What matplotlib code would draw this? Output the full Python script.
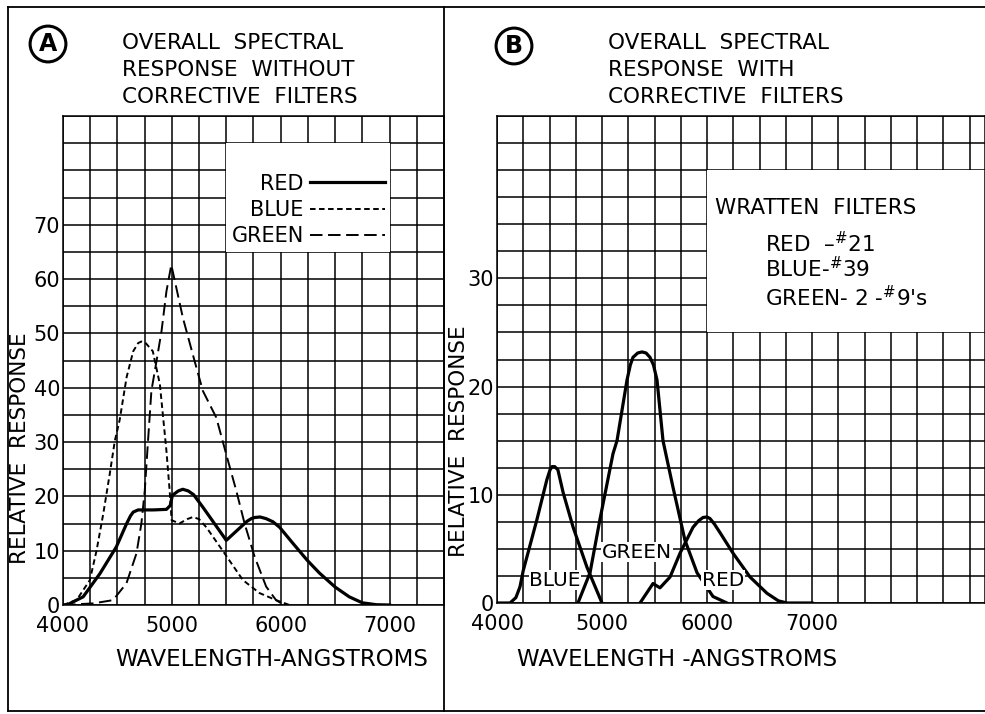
import matplotlib
matplotlib.use("Agg")
import matplotlib.pyplot as plt
from matplotlib.lines import Line2D
from matplotlib.patches import Rectangle
from matplotlib.ticker import MultipleLocator

plt.rcParams["font.family"] = ["DejaVu Sans"]
plt.rcParams["mathtext.fontset"] = "dejavusans"
plt.rcParams["lines.scale_dashes"] = False

# ---- panel A: overall response without corrective filters ----
red_a_x = [4000, 4035, 4185, 4340, 4490, 4585, 4620, 4645, 4690, 4735, 4830, 4950, 4985,
           5005, 5060, 5100, 5150, 5200, 5285, 5500, 5690, 5730, 5760, 5810, 5865, 5930,
           5990, 6110, 6245, 6355, 6500, 6630, 6750, 6880, 7000]
red_a_y = [0, 0, 1.5, 5.8, 10.7, 15.0, 16.4, 17.1, 17.5, 17.5, 17.5, 17.6, 18.3,
           20.2, 21.0, 21.3, 21.0, 20.3, 18.0, 11.9, 15.4, 15.9, 16.1, 16.2, 15.9, 15.3,
           14.3, 11.4, 8.2, 5.9, 3.3, 1.5, 0.4, 0.05, 0]

blue_a_x = [4000, 4125, 4247, 4308, 4370, 4430, 4476, 4520, 4585, 4645, 4690, 4720, 4760,
            4825, 4890, 4950, 4980, 4998, 5070, 5140, 5195, 5250, 5317, 5484, 5652, 5805,
            5957, 6080]
blue_a_y = [0, 0.9, 4.6, 10.0, 16.8, 24.2, 30.2, 34.0, 42.0, 46.7, 48.2, 48.5, 48.2,
            46.7, 40.6, 28.4, 21.0, 15.6, 15.0, 15.8, 16.2, 15.8, 14.3, 9.5, 4.6, 2.2,
            0.9, 0]

green_a_x = [4000, 4280, 4460, 4583, 4675, 4720, 4751, 4781, 4812, 4860, 4905, 4950, 4995,
             5102, 5209, 5285, 5408, 5515, 5591, 5668, 5760, 5866, 5957, 6030]
green_a_y = [0, 0.3, 0.9, 4.0, 9.5, 15.0, 21.0, 30.2, 39.4, 45.0, 50.4, 57.7, 62.6,
             52.8, 44.9, 39.4, 34.5, 26.6, 21.1, 15.0, 8.9, 3.4, 0.9, 0]

# ---- panel B: overall response with corrective filters ----
blue_b_x = [4000, 4124, 4180, 4219, 4250, 4380, 4475, 4505, 4524, 4550, 4580, 4630, 4725,
            4857, 5000]
blue_b_y = [0, 0, 0.5, 1.5, 3.0, 7.7, 11.4, 12.3, 12.6, 12.6, 12.3, 10.2, 7.0, 3.3, 0]

green_b_x = [4771, 4886, 4980, 5105, 5143, 5238, 5270, 5295, 5340, 5381, 5420, 5457,
             5490, 5524, 5581, 5676, 5790, 5905, 6057, 6190]
green_b_y = [0, 2.8, 7.7, 13.8, 15.0, 20.6, 22.0, 22.7, 23.1, 23.2, 23.1, 22.7,
             22.0, 20.6, 15.0, 10.7, 5.8, 2.8, 0.6, 0]

red_b_x = [5362, 5486, 5552, 5648, 5743, 5867, 5920, 5962, 6000, 6029, 6070, 6124,
           6248, 6410, 6571, 6680, 6762, 7000]
red_b_y = [0, 1.8, 1.4, 2.4, 4.6, 7.0, 7.6, 7.9, 7.95, 7.8, 7.3, 6.5,
           4.6, 2.4, 0.9, 0.2, 0, 0]

xticks = [4000, 5000, 6000, 7000]
yticks_a = [0, 10, 20, 30, 40, 50, 60, 70]
yticks_b = [0, 10, 20, 30]

W, H = 985, 714


def fx(px):
    return px / W


def fy(py):
    return 1 - py / H


fig = plt.figure(figsize=(9.85, 7.14), dpi=100, facecolor="white")

# outer frame of the plate
for xs, ys in [([8, 985], [7, 7]), ([8, 985], [711, 711]), ([8, 8], [7, 711]),
               ([444, 444], [7, 711])]:
    fig.add_artist(Line2D([fx(x) for x in xs], [fy(y) for y in ys],
                          transform=fig.transFigure, color="black", lw=1.3))


def grid_axes(rect, xlim, ylim, xstep, ystep, yticks):
    ax = fig.add_axes(rect)
    ax.set_xlim(*xlim); ax.set_ylim(*ylim)
    ax.xaxis.set_minor_locator(MultipleLocator(xstep))
    ax.yaxis.set_minor_locator(MultipleLocator(ystep))
    ax.set_xticks(xticks); ax.set_yticks(yticks)
    ax.grid(which="both", color="black", lw=1.1)
    ax.set_axisbelow(True)
    ax.tick_params(which="both", length=0, labelsize=15)
    ax.tick_params(axis="x", pad=8); ax.tick_params(axis="y", pad=2)
    for s in ax.spines.values():
        s.set_linewidth(1.1)
    return ax


ax_a = grid_axes([fx(63), fy(605), fx(444) - fx(63), fy(116) - fy(605)],
                 (4000, 7500), (0, 90), 250, 5, yticks_a)
ax_b = grid_axes([fx(497), fy(603), 1 - fx(497), fy(116) - fy(603)],
                 (4000, 4000 + (985 - 497) * 1000 / 105), (0, 45), 250, 2.5, yticks_b)

# white panels that hold the key / filter list
ax_a.add_patch(Rectangle((5500, 65), 1500, 20, fc="white", ec="none", zorder=1.5))
ax_b.add_patch(Rectangle((6000, 25), 4000, 15, fc="white", ec="none", zorder=1.5))

ax_a.plot(red_a_x, red_a_y, color="black", lw=2.3, label="RED", zorder=3,
          solid_joinstyle="round")
ax_a.plot(blue_a_x, blue_a_y, color="black", lw=1.4, ls=(0, (4, 2.5)), label="BLUE", zorder=3)
ax_a.plot(green_a_x, green_a_y, color="black", lw=1.4, ls=(0, (9, 4)), label="GREEN", zorder=3)
ax_a.legend(loc="center left", bbox_to_anchor=(5548, 72.7), bbox_transform=ax_a.transData,
            frameon=False, fontsize=15, markerfirst=False, handlelength=3.6,
            handletextpad=0.3, labelspacing=0.3, borderpad=0, borderaxespad=0)

for xs, ys in [(blue_b_x, blue_b_y), (green_b_x, green_b_y), (red_b_x, red_b_y)]:
    ax_b.plot(xs, ys, color="black", lw=2.3, zorder=3, solid_joinstyle="round")

lbl = dict(fontsize=14.5, ha="center", va="center", zorder=4,
           bbox=dict(fc="white", ec="none", pad=0.5))
ax_b.text(4552, 2.1, "BLUE", **lbl)
ax_b.text(5333, 4.7, "GREEN", **lbl)
ax_b.text(6152, 2.1, "RED", **lbl)

ax_b.text(6076, 36.5, "WRATTEN  FILTERS", fontsize=15.5, va="center", zorder=4)
ax_b.text(6551, 33.2, "RED  \u2013$^{\\#}$21", fontsize=15.5, va="center", zorder=4)
ax_b.text(6551, 30.9, "BLUE-$^{\\#}$39", fontsize=15.5, va="center", zorder=4)
ax_b.text(6551, 28.2, "GREEN- 2 -$^{\\#}$9's", fontsize=15.5, va="center", zorder=4)

# axis titles
ax_a.text(-0.113, 0.321, "RELATIVE  RESPONSE", transform=ax_a.transAxes, rotation=90,
          ha="center", va="center", fontsize=15.5)
ax_b.text(-0.078, 0.333, "RELATIVE  RESPONSE", transform=ax_b.transAxes, rotation=90,
          ha="center", va="center", fontsize=15.5)
ax_a.text(0.549, -0.112, "WAVELENGTH-ANGSTROMS", transform=ax_a.transAxes,
          ha="center", va="center", fontsize=16.5)
ax_b.text(0.369, -0.117, "WAVELENGTH -ANGSTROMS", transform=ax_b.transAxes,
          ha="center", va="center", fontsize=16.5)

# headings
fig.text(fx(122), fy(70), "OVERALL  SPECTRAL\nRESPONSE  WITHOUT\nCORRECTIVE  FILTERS",
         ha="left", va="center", fontsize=15.5, linespacing=1.42)
fig.text(fx(608), fy(70), "OVERALL  SPECTRAL\nRESPONSE  WITH\nCORRECTIVE  FILTERS",
         ha="left", va="center", fontsize=15.5, linespacing=1.42)
circ = dict(boxstyle="circle,pad=0.25", fc="white", ec="black", lw=2.2)
fig.text(fx(48), fy(44), "A", ha="center", va="center", fontsize=17, fontweight="bold", bbox=circ)
fig.text(fx(514), fy(46), "B", ha="center", va="center", fontsize=17, fontweight="bold", bbox=circ)

fig.savefig("out.png", dpi=100)
